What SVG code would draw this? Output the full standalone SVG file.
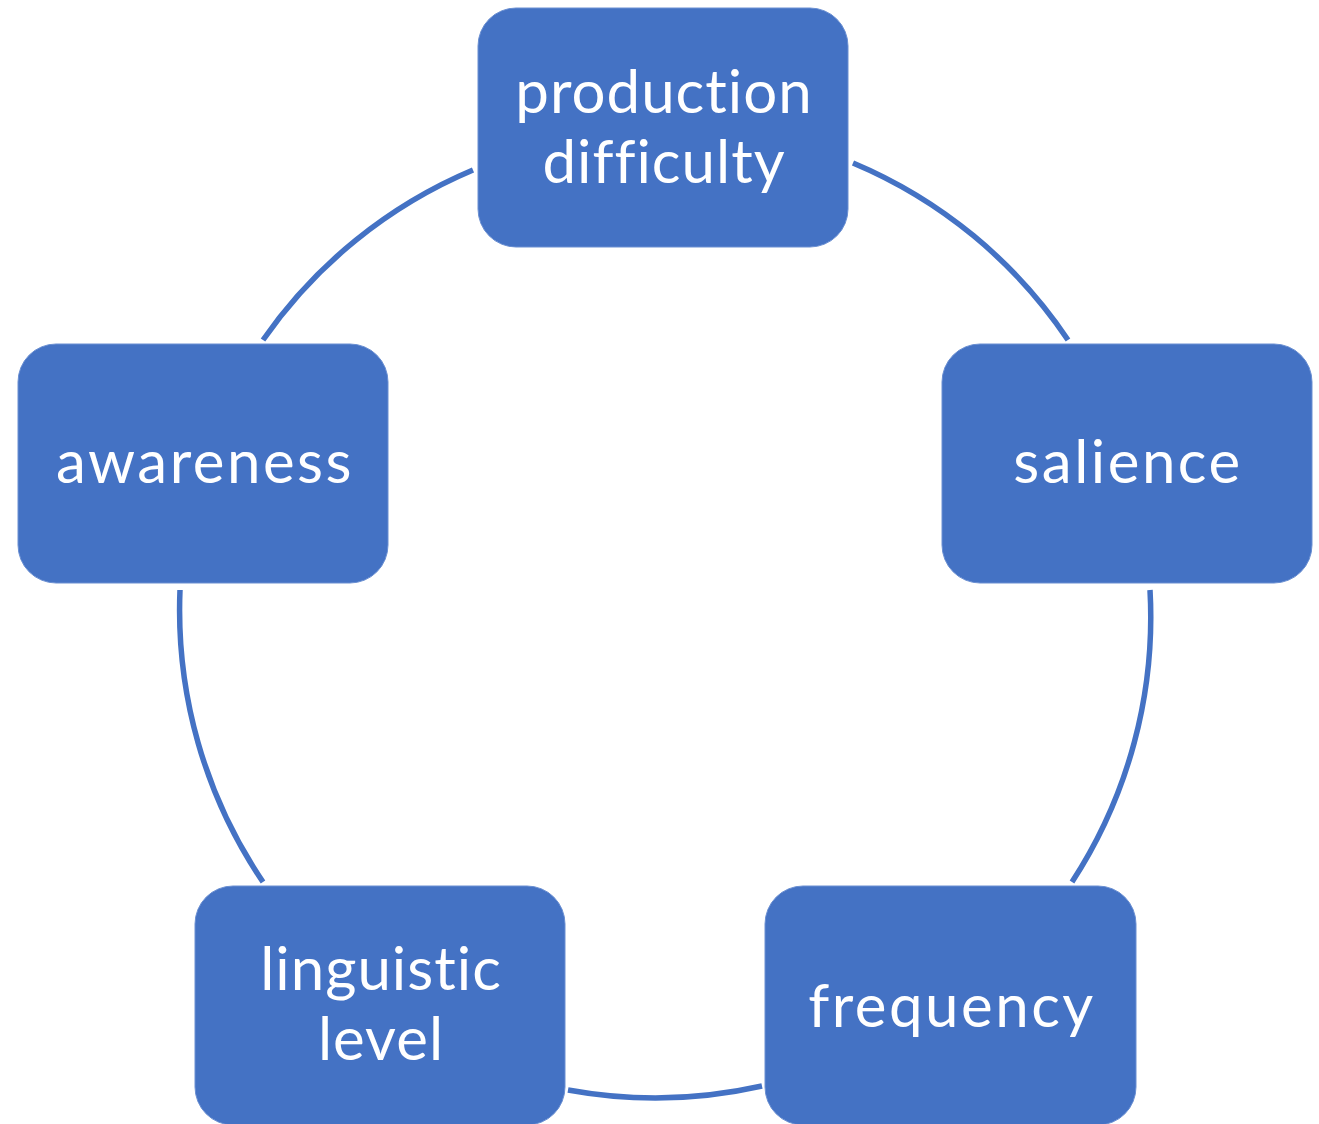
<svg xmlns="http://www.w3.org/2000/svg" width="1319" height="1124" viewBox="0 0 1319 1124">
<style>
.box{fill:#4472C4;stroke:#6A8FD2;stroke-width:1}
.lbl{fill:#FFFFFF;font-family:"Lato","Noto Sans",sans-serif;font-size:60px;text-anchor:middle;letter-spacing:1px}
.wide{letter-spacing:2.5px}
.arc{fill:none;stroke:#4472C4;stroke-width:5.5}
</style>
<rect width="1319" height="1124" fill="#FFFFFF"/>
<g id="connectors">
<path class="arc" d="M473,170 A485,485 0 0 0 263,340"/>
<path class="arc" d="M853,163 A485,485 0 0 1 1068,340"/>
<path class="arc" d="M1150,590 A485,485 0 0 1 1072,882"/>
<path class="arc" d="M762,1086 A485,485 0 0 1 568,1090"/>
<path class="arc" d="M180,590 A485,485 0 0 0 263,882"/>
</g>
<g id="node-production">
<rect class="box" x="478" y="8" width="370" height="239" rx="38"/>
<text class="lbl" x="664" y="113">production</text>
<text class="lbl" x="664" y="183">difficulty</text>
</g>
<g id="node-salience">
<rect class="box" x="942" y="344" width="370" height="239" rx="38"/>
<text class="lbl wide" x="1128" y="483">salience</text>
</g>
<g id="node-frequency">
<rect class="box" x="765" y="886" width="371" height="239" rx="38"/>
<text class="lbl wide" x="952" y="1027">frequency</text>
</g>
<g id="node-linguistic">
<rect class="box" x="195" y="886" width="370" height="239" rx="38"/>
<text class="lbl" x="381" y="990">linguistic</text>
<text class="lbl" x="381" y="1060">level</text>
</g>
<g id="node-awareness">
<rect class="box" x="18" y="344" width="370" height="239" rx="38"/>
<text class="lbl wide" x="205" y="483">awareness</text>
</g>
</svg>
